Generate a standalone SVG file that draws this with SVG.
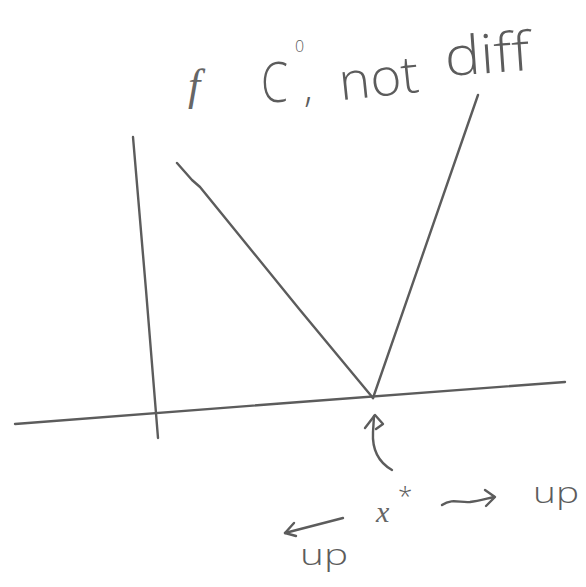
<svg xmlns="http://www.w3.org/2000/svg" width="586" height="587" viewBox="0 0 586 587">
<style>
.ink{fill:none;stroke:#5c5c5c;stroke-width:2.4;stroke-linecap:round;stroke-linejoin:round}
.t{fill:#5c5c5c;font-family:"Open Sans","Liberation Sans",Arial,sans-serif;font-weight:300}
.ti{fill:#666666;font-family:"Liberation Serif","Times New Roman",serif;font-style:italic}
</style>
<rect width="586" height="587" fill="#ffffff"/>
<g id="axes">
<path class="ink" d="M133,137 L146,290 L158,438"/>
<path class="ink" d="M15,424 L300,402 L565,382"/>
</g>
<g id="graph">
<path class="ink" d="M177,163 L192,180 L200,187 L300,310 L373,398"/>
<path class="ink" d="M373,398 L478,95"/>
</g>
<g id="title">
<text class="ti" x="188" y="100" font-size="44">f</text>
<text class="t" x="261" y="102" font-size="56" textLength="27" lengthAdjust="spacingAndGlyphs">C</text>
<text class="t" x="295" y="52" font-size="16">0</text>
<text class="t" x="304" y="102" font-size="40">,</text>
<text class="t" x="340" y="96" font-size="52" textLength="80" lengthAdjust="spacingAndGlyphs" transform="rotate(-6 380 90)">not</text>
<text class="t" x="445" y="73" font-size="54" textLength="85" lengthAdjust="spacingAndGlyphs" transform="rotate(-4 487 60)">diff</text>
</g>
<g id="connectors">
<path class="ink" d="M392,470 C378,462 372,450 373,432 L374,416"/>
<path class="ink" d="M365,428 L375,415 L383,424 L376,429"/>
<path class="ink" d="M442,505 C452,498 460,503 470,502 C478,501 485,499 494,497"/>
<path class="ink" d="M485,490 L495,497 L486,506"/>
<path class="ink" d="M343,518 L285,533"/>
<path class="ink" d="M294,523 L285,533 L296,536"/>
</g>
<g id="labels">
<text class="ti" x="376" y="522" font-size="30">x</text>
<text class="t" x="398" y="505" font-size="26">*</text>
<text class="t" x="533" y="503" font-size="30" textLength="46" lengthAdjust="spacingAndGlyphs">up</text>
<text class="t" x="300" y="565" font-size="30" textLength="48" lengthAdjust="spacingAndGlyphs">up</text>
</g>
</svg>
